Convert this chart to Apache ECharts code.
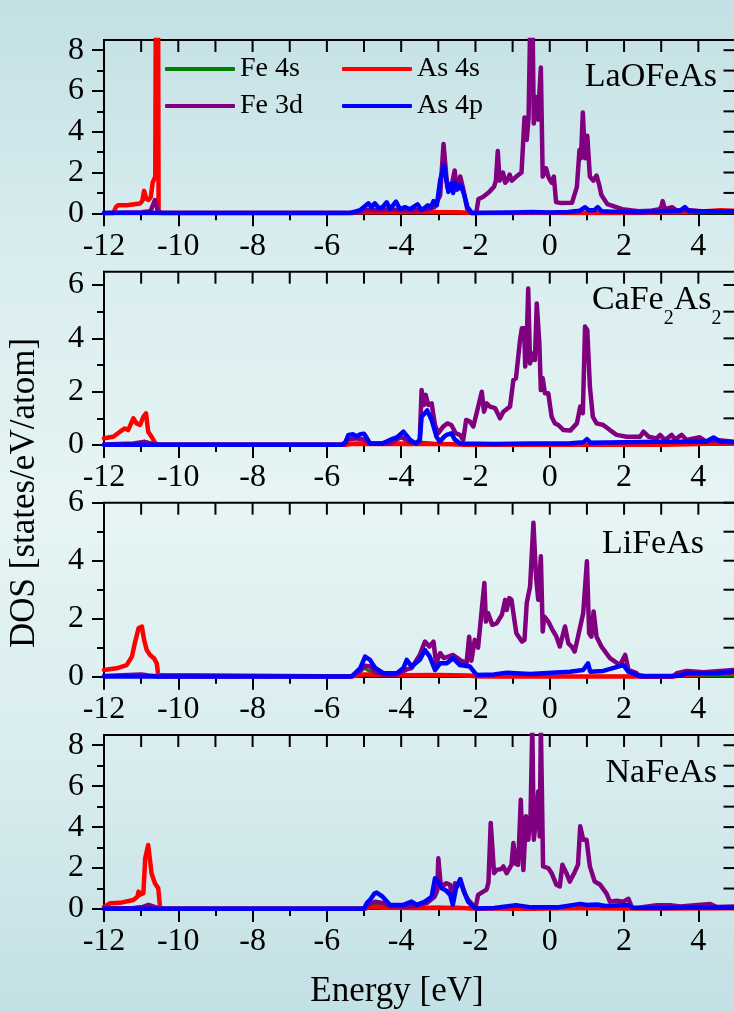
<!DOCTYPE html>
<html>
<head>
<meta charset="utf-8">
<script src="https://cdn.jsdelivr.net/npm/echarts@6/dist/echarts.min.js"></script>
<style>
html,body{margin:0;padding:0;width:734px;height:1011px;overflow:hidden;
background:linear-gradient(to bottom,#c3e0e4 0%,#d9edef 25%,#e6f4f4 50%,#d9edef 75%,#c3e0e4 100%);}
#chart{width:734px;height:1011px;}
</style>
</head>
<body>
<div id="chart"></div>
<script>
// ---------------- DATA ----------------
const seriesNames = ['Fe 4s', 'As 4s', 'Fe 3d', 'As 4p'];
const compounds = ['LaOFeAs', 'CaFe2As2', 'LiFeAs', 'NaFeAs'];
const energyTickLabels = [-12, -10, -8, -6, -4, -2, 0, 2, 4];
const energyMinorTicks = [-11, -9, -7, -5, -3, -1, 1, 3];
const energyFrameTicks = [-11, -10, -9, -8, -7, -6, -5, -4, -3, -2, -1, 0, 1, 2, 3, 4];
const yMaxes = [8.5, 6.5, 6, 8.5];
const yTickLabels = [[0, 2, 4, 6, 8], [0, 2, 4, 6], [0, 2, 4, 6], [0, 2, 4, 6, 8]];

// LaOFeAs
const laofeas_fe4s = [[-12,0.01],[-11.7,0.02],[-10.9,0.04],[-10.6,0.06],[-10.45,0.01],[-5.3,0.01],[-4.9,0.05],[-4.0,0.06],[-3.0,0.08],[-2.5,0.06],[-2.1,0.02],[0,0.01],[2,0.02],[5,0.03]];
const laofeas_as4s = [[-12,0],[-11.75,0],[-11.68,0.3],[-11.62,0.4],[-11.39,0.4],[-11.03,0.48],[-10.97,0.6],[-10.92,1.1],[-10.86,0.7],[-10.8,0.65],[-10.74,0.8],[-10.69,1.5],[-10.62,1.8],[-10.57,30],[-10.53,0.02],[-10.3,0.01],[-5.3,0.01],[-5.0,0.06],[-4.5,0.05],[-3.5,0.06],[-2.5,0.05],[-2.2,0.03],[-2.0,0.01],[2.5,0.01],[3.0,0.05],[3.8,0.05],[4.2,0.1],[4.6,0.15],[5,0.12]];
const laofeas_fe3d = [[-12,0.02],[-11.7,0.03],[-11.0,0.05],[-10.75,0.1],[-10.63,0.65],[-10.55,0.1],[-10.45,0.02],[-5.3,0.02],[-5.1,0.08],[-4.9,0.18],[-4.6,0.15],[-4.3,0.2],[-4.0,0.15],[-3.6,0.15],[-3.3,0.2],[-3.1,0.3],[-2.95,0.9],[-2.86,3.4],[-2.76,1.3],[-2.66,1.2],[-2.56,2.1],[-2.5,1.15],[-2.45,1.3],[-2.41,1.8],[-2.33,1.2],[-2.22,0.2],[-2.12,0.0],[-1.98,0.0],[-1.92,0.7],[-1.8,0.8],[-1.63,1.05],[-1.5,1.3],[-1.45,1.6],[-1.4,3.05],[-1.35,1.6],[-1.3,1.6],[-1.26,2.0],[-1.2,1.5],[-1.15,1.6],[-1.08,1.9],[-1.02,1.6],[-0.9,1.8],[-0.76,2.0],[-0.68,4.7],[-0.62,3.6],[-0.57,4.7],[-0.53,9],[-0.46,9],[-0.43,4.4],[-0.37,5.7],[-0.32,4.6],[-0.24,7.15],[-0.19,1.8],[-0.1,2.2],[-0.03,1.75],[0.05,1.5],[0.11,1.8],[0.17,0.55],[0.3,0.5],[0.6,0.52],[0.73,1.3],[0.8,3.1],[0.84,2.7],[0.89,4.95],[0.95,2.7],[1.01,3.8],[1.08,1.8],[1.17,1.6],[1.26,1.85],[1.33,1.4],[1.39,0.9],[1.55,0.45],[1.95,0.2],[2.4,0.1],[2.7,0.12],[2.95,0.2],[3.0,0.3],[3.04,0.6],[3.1,0.2],[3.3,0.3],[3.4,0.15],[3.8,0.15],[4.2,0.08],[4.6,0.1],[5,0.08]];
const laofeas_as4p = [[-12,0.01],[-5.4,0.01],[-5.2,0.1],[-5.1,0.16],[-4.88,0.49],[-4.8,0.3],[-4.71,0.49],[-4.6,0.25],[-4.5,0.3],[-4.39,0.54],[-4.3,0.2],[-4.14,0.57],[-4.03,0.2],[-3.9,0.3],[-3.76,0.2],[-3.56,0.44],[-3.45,0.15],[-3.28,0.39],[-3.2,0.3],[-3.13,0.6],[-3.04,0.4],[-2.95,1.62],[-2.85,2.36],[-2.73,1.05],[-2.66,1.46],[-2.6,1.0],[-2.55,1.5],[-2.47,1.2],[-2.4,1.4],[-2.3,0.9],[-2.22,0.32],[-2.1,0.02],[-1.0,0.04],[-0.5,0.06],[0.0,0.04],[0.5,0.06],[0.8,0.12],[0.95,0.3],[1.05,0.15],[1.2,0.15],[1.29,0.3],[1.4,0.1],[1.7,0.08],[2.5,0.05],[3.0,0.1],[3.5,0.12],[3.64,0.3],[3.75,0.1],[4.3,0.1],[4.8,0.1],[5,0.08]];

// CaFe2As2
const cafe2as2_fe4s = [[-12,0.01],[-11,0.03],[-10.6,0.01],[-5.5,0.01],[-5.2,0.08],[-4.8,0.04],[-3.4,0.1],[-3.0,0.05],[-2.5,0.03],[-2.2,0.01],[5,0.02]];
const cafe2as2_as4s = [[-12,0.25],[-11.75,0.31],[-11.57,0.5],[-11.44,0.62],[-11.35,0.56],[-11.21,1.0],[-11.12,0.81],[-11.03,0.75],[-10.94,1.06],[-10.87,1.19],[-10.81,0.5],[-10.72,0.31],[-10.63,0.09],[-10.55,0.01],[-5.5,0.01],[-5.3,0.05],[-4.5,0.04],[-3.5,0.05],[-2.6,0.03],[-2.3,0.01],[3,0.01],[4.0,0.04],[4.5,0.08],[5,0.05]];
const cafe2as2_fe3d = [[-12,0.02],[-11.2,0.06],[-10.9,0.12],[-10.7,0.04],[-10.5,0.01],[-5.55,0.01],[-5.45,0.2],[-5.2,0.25],[-5.0,0.2],[-4.85,0.06],[-4.3,0.06],[-4.0,0.3],[-3.8,0.15],[-3.6,0.06],[-3.5,0.2],[-3.45,2.06],[-3.39,1.5],[-3.34,1.88],[-3.27,1.5],[-3.18,1.56],[-3.09,0.75],[-3.0,0.44],[-2.87,0.69],[-2.76,0.81],[-2.65,0.75],[-2.53,0.44],[-2.42,0.38],[-2.33,0.19],[-2.25,0.94],[-2.15,0.88],[-2.06,0.69],[-1.97,1.19],[-1.83,2.0],[-1.77,1.25],[-1.7,1.56],[-1.61,1.44],[-1.47,1.38],[-1.34,1.0],[-1.25,1.25],[-1.07,1.44],[-0.98,2.44],[-0.91,2.5],[-0.8,3.94],[-0.75,4.38],[-0.69,4.38],[-0.66,2.94],[-0.62,3.94],[-0.58,5.87],[-0.53,3.06],[-0.44,3.44],[-0.4,3.19],[-0.35,5.31],[-0.28,3.81],[-0.24,2.06],[-0.19,2.5],[-0.13,1.94],[-0.04,1.94],[0.05,1.06],[0.14,0.81],[0.23,0.75],[0.37,0.56],[0.55,0.54],[0.73,0.81],[0.82,1.44],[0.89,1.19],[0.95,4.44],[1.01,4.31],[1.08,2.19],[1.16,1.06],[1.26,0.81],[1.44,0.75],[1.62,0.56],[1.8,0.38],[2.07,0.31],[2.43,0.31],[2.52,0.5],[2.66,0.31],[2.88,0.25],[2.97,0.38],[3.1,0.19],[3.28,0.38],[3.37,0.21],[3.55,0.38],[3.68,0.19],[4.04,0.29],[4.22,0.12],[4.49,0.19],[5,0.12]];
const cafe2as2_as4p = [[-12,0.01],[-5.6,0.01],[-5.5,0.1],[-5.42,0.38],[-5.3,0.4],[-5.2,0.33],[-5.1,0.4],[-5.0,0.42],[-4.92,0.25],[-4.84,0.06],[-4.5,0.06],[-4.3,0.19],[-4.1,0.3],[-3.94,0.5],[-3.76,0.19],[-3.6,0.05],[-3.5,0.15],[-3.45,1.06],[-3.36,1.19],[-3.3,1.3],[-3.27,1.37],[-3.18,0.94],[-3.05,0.31],[-2.96,0.12],[-2.85,0.3],[-2.78,0.38],[-2.65,0.44],[-2.56,0.21],[-2.42,0.06],[-1.5,0.04],[-0.5,0.06],[0.5,0.06],[0.9,0.1],[1.0,0.22],[1.1,0.08],[2.0,0.1],[3.0,0.12],[4.2,0.12],[4.41,0.28],[4.6,0.12],[5,0.1]];

// LiFeAs
const lifeas_fe4s = [[-12,0.03],[-11.0,0.06],[-10.55,0.01],[-5.3,0.01],[-5.0,0.3],[-4.8,0.15],[-4.4,0.05],[-3.4,0.08],[-2.5,0.05],[-2.0,0.01],[5,0.02]];
const lifeas_as4s = [[-12,0.23],[-11.66,0.29],[-11.39,0.4],[-11.25,0.69],[-11.16,1.21],[-11.07,1.67],[-10.98,1.73],[-10.92,1.27],[-10.85,0.92],[-10.76,0.75],[-10.65,0.63],[-10.58,0.46],[-10.54,0.06],[-10.5,0.01],[-5.3,0.01],[-5.0,0.08],[-4.0,0.05],[-3.0,0.06],[-2.2,0.04],[-1.9,0.01],[3.3,0.01],[3.8,0.08],[4.5,0.1],[5,0.12]];
const lifeas_fe3d = [[-12,0.02],[-11.0,0.08],[-10.8,0.04],[-10.5,0.01],[-5.35,0.01],[-5.1,0.2],[-4.97,0.38],[-4.84,0.35],[-4.7,0.15],[-4.48,0.06],[-4.12,0.08],[-3.85,0.25],[-3.72,0.3],[-3.5,0.75],[-3.36,1.21],[-3.24,1.04],[-3.13,1.21],[-3.06,0.46],[-2.95,0.81],[-2.85,0.64],[-2.6,0.75],[-2.42,0.58],[-2.24,0.46],[-2.17,1.38],[-2.11,0.55],[-2.02,1.27],[-1.93,1.0],[-1.84,2.19],[-1.76,3.23],[-1.72,1.9],[-1.66,2.19],[-1.55,1.79],[-1.43,1.84],[-1.29,2.13],[-1.2,2.65],[-1.16,2.3],[-1.09,2.71],[-1.03,2.65],[-0.98,2.2],[-0.9,1.5],[-0.75,1.21],[-0.68,1.27],[-0.62,2.54],[-0.53,3.11],[-0.44,5.31],[-0.37,3.46],[-0.31,2.65],[-0.24,4.15],[-0.19,1.56],[-0.15,2.08],[-0.04,1.9],[0.05,1.67],[0.18,1.38],[0.27,1.04],[0.41,1.73],[0.5,1.15],[0.59,1.04],[0.67,0.87],[0.76,1.38],[0.9,2.19],[1.0,3.98],[1.06,1.5],[1.12,1.38],[1.18,2.25],[1.26,1.38],[1.39,1.04],[1.62,0.64],[1.89,0.4],[2.03,0.75],[2.12,0.23],[2.34,0.12],[2.43,0.0],[3.3,0.0],[3.42,0.12],[3.69,0.2],[4.14,0.15],[4.95,0.23],[5,0.22]];
const lifeas_as4p = [[-12,0.01],[-5.33,0.01],[-5.1,0.3],[-4.97,0.69],[-4.84,0.58],[-4.7,0.3],[-4.48,0.12],[-4.12,0.12],[-3.94,0.3],[-3.85,0.58],[-3.72,0.35],[-3.5,0.58],[-3.36,0.92],[-3.23,0.69],[-3.09,0.23],[-2.95,0.46],[-2.78,0.46],[-2.6,0.64],[-2.42,0.4],[-2.15,0.35],[-1.97,0.06],[-1.5,0.08],[-1.16,0.14],[-0.53,0.09],[0.54,0.17],[0.9,0.23],[1.03,0.46],[1.09,0.17],[1.44,0.2],[1.98,0.4],[2.12,0.17],[2.34,0.06],[2.6,0.02],[3.5,0.03],[3.69,0.12],[4.5,0.12],[4.95,0.17],[5,0.17]];

// NaFeAs
const nafeas_fe4s = [[-12,0.02],[-10.8,0.05],[-10.5,0.01],[-5,0.01],[-4.7,0.25],[-4.4,0.05],[-3.0,0.1],[-2.5,0.05],[-2.0,0.01],[5,0.02]];
const nafeas_as4s = [[-12,0.1],[-11.83,0.28],[-11.57,0.3],[-11.21,0.44],[-11.1,0.6],[-11.07,0.85],[-11.03,0.7],[-10.94,0.77],[-10.89,2.48],[-10.85,2.48],[-10.81,3.13],[-10.76,3.05],[-10.72,1.75],[-10.63,1.26],[-10.54,1.01],[-10.49,0.08],[-10.4,0.01],[-5.0,0.01],[-4.8,0.1],[-4.5,0.06],[-3.5,0.05],[-2.5,0.06],[-2.1,0.02],[-0.5,0.01],[0.8,0.05],[1.2,0.04],[2.0,0.02],[3.0,0.03],[5,0.04]];
const nafeas_fe3d = [[-12,0.02],[-11.2,0.05],[-10.95,0.1],[-10.8,0.2],[-10.6,0.08],[-10.45,0.01],[-5.0,0.01],[-4.85,0.25],[-4.7,0.35],[-4.5,0.3],[-4.3,0.15],[-3.9,0.12],[-3.6,0.15],[-3.3,0.3],[-3.1,0.6],[-3.03,0.9],[-3.0,2.48],[-2.94,1.26],[-2.85,1.15],[-2.79,1.26],[-2.68,1.18],[-2.64,0.5],[-2.6,0.4],[-2.55,1.26],[-2.49,1.1],[-2.41,1.45],[-2.33,1.0],[-2.29,0.77],[-2.2,0.45],[-2.1,0.25],[-2.02,0.05],[-1.97,0.3],[-1.93,0.69],[-1.79,0.85],[-1.7,0.95],[-1.65,1.3],[-1.59,4.2],[-1.5,1.75],[-1.43,1.91],[-1.3,1.95],[-1.25,2.08],[-1.16,1.75],[-1.03,2.16],[-0.98,3.22],[-0.91,2.2],[-0.85,2.16],[-0.78,5.34],[-0.71,1.9],[-0.64,4.53],[-0.58,3.38],[-0.52,4.36],[-0.47,9],[-0.44,9],[-0.43,3.38],[-0.37,4.36],[-0.31,5.75],[-0.27,3.55],[-0.24,9],[-0.2,9],[-0.18,2.08],[-0.04,2.0],[0.05,1.75],[0.18,1.18],[0.27,1.1],[0.34,2.16],[0.45,1.75],[0.54,1.34],[0.67,1.8],[0.76,2.16],[0.82,4.04],[0.9,3.38],[0.99,3.38],[1.08,2.08],[1.21,1.34],[1.35,1.2],[1.53,0.75],[1.62,0.36],[1.8,0.4],[1.98,0.36],[2.12,0.5],[2.21,0.08],[2.34,0.05],[2.88,0.18],[3.24,0.18],[3.51,0.12],[4.32,0.24],[4.5,0.1],[5,0.12]];
const nafeas_as4p = [[-12,0.01],[-5.0,0.01],[-4.92,0.3],[-4.84,0.44],[-4.72,0.75],[-4.66,0.8],[-4.5,0.6],[-4.3,0.2],[-3.94,0.2],[-3.72,0.36],[-3.58,0.2],[-3.36,0.36],[-3.18,0.6],[-3.09,1.5],[-3.0,1.3],[-2.91,1.01],[-2.79,0.9],[-2.68,0.69],[-2.61,0.2],[-2.52,1.05],[-2.41,1.45],[-2.33,0.95],[-2.2,0.36],[-2.06,0.11],[-1.97,0.03],[-1.5,0.05],[-0.91,0.18],[-0.5,0.08],[0.2,0.08],[0.82,0.25],[1.0,0.2],[1.28,0.22],[1.5,0.15],[2.12,0.2],[2.21,0.06],[3,0.05],[4,0.08],[5,0.06]];

// ---------------- LAYOUT / STYLE ----------------
const FONT = 'Liberation Serif';
const panelSeries = [
  [laofeas_fe4s, laofeas_as4s, laofeas_fe3d, laofeas_as4p],
  [cafe2as2_fe4s, cafe2as2_as4s, cafe2as2_fe3d, cafe2as2_as4p],
  [lifeas_fe4s, lifeas_as4s, lifeas_fe3d, lifeas_as4p],
  [nafeas_fe4s, nafeas_as4s, nafeas_fe3d, nafeas_as4p]
];
const seriesColors = ['#008000', '#ff0000', '#800080', '#0000ff'];
const seriesWidths = [3, 4.5, 4.5, 4.5];
const gridTops = [40, 271.7, 502.7, 735];
const gridHeights = [173.3, 173.3, 174, 174];
const GRID_LEFT = 104, GRID_WIDTH = 631.5;
const X_MIN = -12, X_MAX = 5;

const grids = [], xAxes = [], yAxes = [], series = [];
const black = '#000';
const tickLine = {color: black, width: 2};
const frameTicks = []; // [panel, x, y, dirX, dirY]

for (let p = 0; p < 4; p++) {
  const ymax = yMaxes[p];
  grids.push({left: GRID_LEFT, width: GRID_WIDTH, top: gridTops[p], height: gridHeights[p],
              containLabel: false, outerBoundsMode: 'none', show: true, borderColor: black, borderWidth: 2,
              backgroundColor: 'transparent'});
  xAxes.push({type: 'value', gridIndex: p, position: 'bottom', min: X_MIN, max: X_MAX,
    axisLine: {show: true, onZero: false, lineStyle: tickLine},
    axisTick: {show: true, inside: false, length: 13, customValues: energyTickLabels, lineStyle: tickLine},
    axisLabel: {show: true, customValues: energyTickLabels, fontSize: 32, fontFamily: FONT, color: black, margin: 17},
    splitLine: {show: false}});
  xAxes.push({type: 'value', gridIndex: p, position: 'bottom', min: X_MIN, max: X_MAX,
    axisLine: {show: false, onZero: false},
    axisTick: {show: true, inside: false, length: 7, customValues: energyMinorTicks, lineStyle: tickLine},
    axisLabel: {show: false}, splitLine: {show: false}});
  const minor = [], right = [];
  for (let v = 1; v <= Math.floor(ymax); v++) { right.push(v); if (v % 2 === 1) minor.push(v); }
  yAxes.push({type: 'value', gridIndex: p, position: 'left', min: 0, max: ymax,
    axisLine: {show: true, onZero: false, lineStyle: tickLine},
    axisTick: {show: true, inside: false, length: 12, customValues: yTickLabels[p], lineStyle: tickLine},
    axisLabel: {show: true, customValues: yTickLabels[p], fontSize: 32, fontFamily: FONT, color: black, margin: 20},
    splitLine: {show: false}});
  yAxes.push({type: 'value', gridIndex: p, position: 'left', min: 0, max: ymax,
    axisLine: {show: false, onZero: false},
    axisTick: {show: true, inside: false, length: 7, customValues: minor, lineStyle: tickLine},
    axisLabel: {show: false}, splitLine: {show: false}});

  for (let s = 0; s < 4; s++) {
    series.push({
      type: 'line', name: seriesNames[s], xAxisIndex: 2 * p, yAxisIndex: 2 * p,
      data: panelSeries[p][s], symbol: 'none', showSymbol: false, clip: true, silent: true,
      z: 2 + s,
      lineStyle: {color: seriesColors[s], width: seriesWidths[s], cap: 'round', join: 'round'},
      itemStyle: {color: seriesColors[s]},
      emphasis: {disabled: true}
    });
  }
  energyFrameTicks.forEach(function (v) { frameTicks.push([p, v, ymax, 0, 1]); });
  right.forEach(function (v) { frameTicks.push([p, X_MAX, v, -1, 0]); });
}

// measure text for subscripted label
function measure(txt, size) {
  const c = document.createElement('canvas').getContext('2d');
  c.font = size + 'px "Liberation Serif"';
  return c.measureText(txt).width;
}
function txt(text, x, y, size, align, extra) {
  return Object.assign({type: 'text', x: x, y: y, silent: true,
    style: {text: text, fontSize: size, fontFamily: FONT, fill: black,
            textAlign: align, textVerticalAlign: 'middle', align: align, verticalAlign: 'middle'}}, extra || {});
}
const graphics = [];
graphics.push(txt(compounds[0], 717, 77, 34, 'right'));
graphics.push(txt(compounds[2], 704, 544.5, 34, 'right'));
graphics.push(txt(compounds[3], 717, 773, 34, 'right'));
(function () {
  const right = 721.5, subSize = 20, mainSize = 34;
  const w2 = measure('2', subSize), wAs = measure('As', mainSize), wCaFe = measure('CaFe', mainSize);
  const x4 = right - w2, x3 = x4 - wAs, x2 = x3 - w2, x1 = x2 - wCaFe;
  graphics.push(txt('CaFe', x1, 300, mainSize, 'left'));
  graphics.push(txt('2', x2, 319, subSize, 'left'));
  graphics.push(txt('As', x3, 300, mainSize, 'left'));
  graphics.push(txt('2', x4, 319, subSize, 'left'));
})();
graphics.push(txt('Energy [eV]', 397, 992, 35, 'center'));
graphics.push(txt('DOS [states/eV/atom]', 25, 493, 35, 'center', {rotation: Math.PI / 2}));

const legendText = {fontSize: 28, fontFamily: FONT, color: black, lineHeight: 28};
const legendBase = {top: 55, orient: 'vertical', padding: 0, itemGap: 9, itemWidth: 70, itemHeight: 4,
                    icon: 'roundRect', textStyle: legendText, selectedMode: false};
const option = {
  backgroundColor: 'transparent',
  animation: false,
  textStyle: {fontFamily: FONT},
  grid: grids,
  xAxis: xAxes,
  yAxis: yAxes,
  legend: [
    Object.assign({left: 165, data: ['Fe 4s', 'Fe 3d']}, legendBase),
    Object.assign({left: 342, data: ['As 4s', 'As 4p']}, legendBase)
  ],
  graphic: graphics,
  series: series
};
const chart = echarts.init(document.getElementById('chart'), null, {renderer: 'canvas'});
chart.setOption(option);

// inward frame ticks on the top and right edges, positioned through each grid's scales
const TICK_LEN = 12;
frameTicks.forEach(function (t) {
  const pt = chart.convertToPixel({gridIndex: t[0]}, [t[1], t[2]]);
  if (!pt) return;
  graphics.push({type: 'line', silent: true, z: 100,
    shape: {x1: pt[0], y1: pt[1], x2: pt[0] + t[3] * TICK_LEN, y2: pt[1] + t[4] * TICK_LEN},
    style: {stroke: black, lineWidth: 2}});
});
chart.setOption({graphic: graphics});
</script>
</body>
</html>
